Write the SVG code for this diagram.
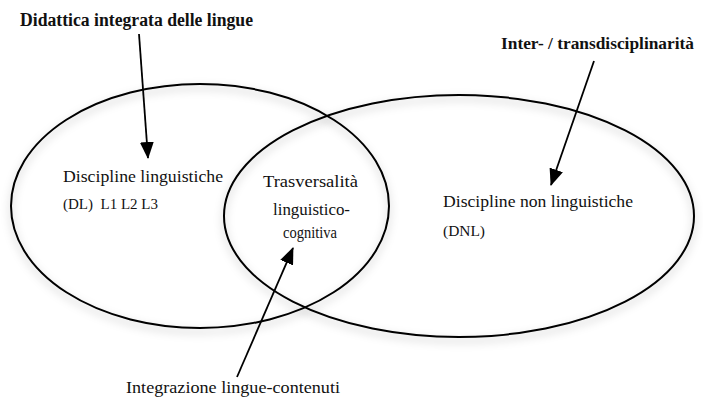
<svg xmlns="http://www.w3.org/2000/svg" width="703" height="400" viewBox="0 0 703 400">
<style>
text{font-family:'Liberation Serif','Times New Roman',serif;fill:#111}
.b{font-weight:bold;font-size:18.5px}
.m{font-size:17px}
.s{font-size:14px}
.ell{fill:none;stroke:#000;stroke-width:2}
.con{stroke:#000;stroke-width:1.8;fill:none}
</style>
<defs>
<filter id="sh" x="-10%" y="-10%" width="120%" height="130%">
<feDropShadow dx="0" dy="4" stdDeviation="4" flood-color="#000" flood-opacity="0.28"/>
</filter>
<marker id="ah" viewBox="0 0 17 14" refX="16" refY="7" markerWidth="17" markerHeight="14" markerUnits="userSpaceOnUse" orient="auto">
<path d="M0,0 L17,7 L0,14 z" fill="#000"/>
</marker>
</defs>
<rect width="703" height="400" fill="#fff"/>
<g id="left-set">
<ellipse class="ell" cx="200" cy="206" rx="189" ry="122" filter="url(#sh)"/>
<text class="m" x="63" y="182" textLength="160" lengthAdjust="spacingAndGlyphs">Discipline linguistiche</text>
<text class="s" x="63" y="209" textLength="95" lengthAdjust="spacingAndGlyphs" xml:space="preserve">(DL)  L1 L2 L3</text>
</g>
<g id="right-set">
<ellipse class="ell" cx="459" cy="216" rx="235" ry="121" filter="url(#sh)"/>
<text class="m" x="443" y="207" textLength="190" lengthAdjust="spacingAndGlyphs">Discipline non linguistiche</text>
<text class="s" x="443" y="236" textLength="42" lengthAdjust="spacingAndGlyphs">(DNL)</text>
</g>
<g id="intersection">
<text class="m" x="263" y="187" textLength="95" lengthAdjust="spacingAndGlyphs">Trasversalità</text>
<text class="m" x="273" y="215" textLength="77" lengthAdjust="spacingAndGlyphs">linguistico-</text>
<text class="m" x="283" y="238" textLength="54" lengthAdjust="spacingAndGlyphs">cognitiva</text>
</g>
<g id="label-didattica">
<text class="b" x="20" y="26" textLength="233" lengthAdjust="spacingAndGlyphs">Didattica integrata delle lingue</text>
</g>
<g id="label-inter">
<text class="b" x="501" y="49" style="font-size:17.3px" textLength="193" lengthAdjust="spacingAndGlyphs">Inter- / transdisciplinarità</text>
</g>
<g id="label-integrazione">
<text class="m" x="126" y="393" textLength="214" lengthAdjust="spacingAndGlyphs">Integrazione lingue-contenuti</text>
</g>
<g id="connectors">
<line class="con" x1="139" y1="34" x2="148" y2="158" marker-end="url(#ah)"/>
<line class="con" x1="594" y1="61" x2="551" y2="185" marker-end="url(#ah)"/>
<line class="con" x1="237" y1="377" x2="293" y2="248" marker-end="url(#ah)"/>
</g>
</svg>
